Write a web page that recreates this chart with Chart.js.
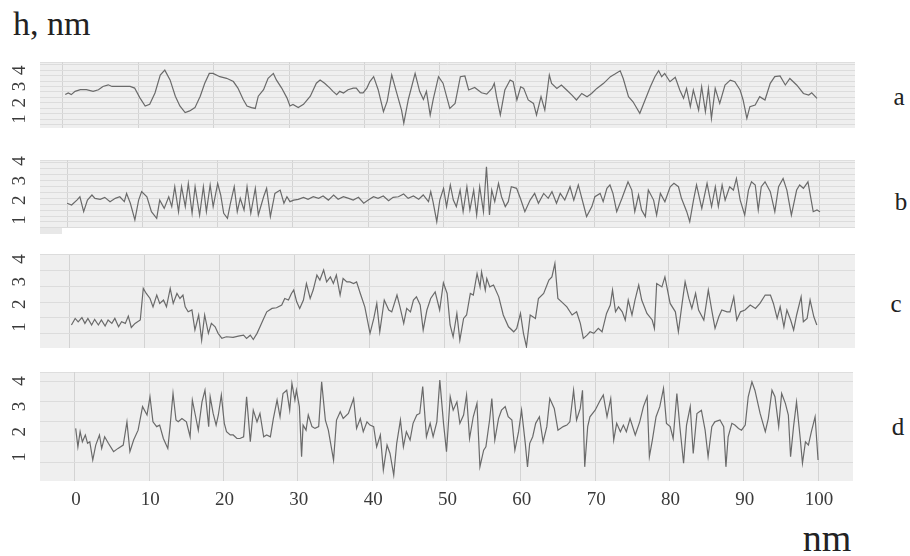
<!DOCTYPE html>
<html>
<head>
<meta charset="utf-8">
<script src="https://cdn.jsdelivr.net/npm/chart.js@4.4.1/dist/chart.umd.min.js"></script>
<style>
  body { margin: 0; background: #fff; width: 910px; height: 556px; position: relative; overflow: hidden; font-family: "Liberation Serif", serif; }
  canvas { position: absolute; left: 0; }
  .txt { position: absolute; line-height: 1; color: #222; white-space: nowrap; }
  .mid { transform: translateX(-50%); }
</style>
</head>
<body>
<div class="txt" style="left:13px;top:7px;font-size:34px;">h, nm</div>
<div class="txt mid" style="left:827px;top:519px;font-size:38px;">nm</div>
<div class="txt mid" id="lab0" style="left:899px;top:84px;font-size:25px;"></div>
<div class="txt mid" id="lab1" style="left:901px;top:189px;font-size:25px;"></div>
<div class="txt mid" id="lab2" style="left:896px;top:291px;font-size:25px;"></div>
<div class="txt mid" id="lab3" style="left:898px;top:414px;font-size:25px;"></div>
<div style="position:absolute;left:40px;top:228px;width:22px;height:6px;background:#e8e8e8;"></div>

<canvas id="panelA" width="910" height="86" style="top:52px"></canvas>
<canvas id="panelB" width="910" height="88" style="top:150px"></canvas>
<canvas id="panelC" width="910" height="114" style="top:244px"></canvas>
<canvas id="panelD" width="910" height="164" style="top:362px"></canvas>

<script>
// x tick labels (nm) and y tick labels (h, nm)
const X_TICKS = [0, 10, 20, 30, 40, 50, 60, 70, 80, 90, 100];
const Y_TICKS = [1, 2, 3, 4];
const PANEL_NAMES = ["a", "b", "c", "d"];

// profile a
const A_X = [0.3,0.7,1.1,1.6,2.3,3.1,4.0,4.7,5.3,6.0,6.5,7.1,8.0,8.9,9.5,10.2,10.9,11.5,12.2,12.9,
  13.5,14.2,14.9,15.5,16.2,16.8,17.5,18.2,18.8,19.4,19.9,20.8,21.7,22.6,23.2,23.9,24.4,25.0,25.5,25.9,
  26.6,27.2,27.9,28.3,29.0,29.7,30.1,30.5,31.2,31.9,32.8,33.6,34.1,34.7,35.4,35.8,36.3,36.7,37.2,37.8,
  38.5,38.9,39.4,39.8,40.3,40.7,41.2,41.8,42.5,43.0,43.6,44.2,44.9,45.2,45.8,46.7,47.3,47.8,48.2,48.7,
  49.1,49.8,50.4,
  51.3,52.0,52.7,53.3,53.8,54.6,55.5,56.2,56.9,57.2,57.5,58.0,58.6,59.3,59.7,60.2,60.7,61.1,61.7,62.4,
  62.8,63.4,63.9,64.5,64.8,65.5,66.1,66.8,67.5,68.1,68.8,69.5,70.1,70.8,71.7,72.6,73.2,73.9,74.3,75.0,
  75.6,76.5,77.2,77.9,78.5,79.0,79.4,79.8,80.5,81.2,81.8,82.3,82.7,83.2,83.6,84.3,84.7,85.2,85.6,86.0,
  86.5,87.1,87.8,88.5,89.1,89.8,90.2,90.7,91.1,91.8,92.4,93.1,93.8,94.4,95.1,95.8,96.4,97.3,98.2,98.9,
  99.3,100];
const A_H = [2.5,2.6,2.5,2.7,2.8,2.8,2.7,2.8,3.0,3.1,3.0,3.0,3.0,3.0,2.9,2.3,1.8,1.9,2.6,3.7,
  4.0,3.4,2.4,1.8,1.4,1.5,1.7,2.4,3.2,3.8,3.8,3.6,3.5,3.3,2.9,2.2,1.8,1.7,1.65,2.4,
  2.8,3.5,3.8,3.4,2.9,2.3,1.8,1.9,1.7,1.9,2.4,3.2,3.4,3.2,2.9,2.7,2.5,2.7,2.6,2.8,
  2.9,2.9,2.6,2.6,2.9,3.3,3.6,2.8,1.45,2.1,3.7,2.7,1.55,0.75,2.2,3.8,2.7,2.2,2.7,1.25,
  2.2,3.6,3.2,
  1.65,1.96,3.6,3.64,2.78,2.94,2.61,2.53,2.88,3.19,2.37,1.25,2.78,3.39,3.29,2.17,2.98,2.88,2.17,1.96,
  1.25,2.37,1.55,3.7,3.19,2.88,3.09,2.78,2.47,2.17,2.57,2.37,2.57,2.88,3.19,3.6,3.76,3.96,3.49,2.37,
  2.06,1.35,2.17,2.98,3.6,3.96,3.6,3.8,3.29,3.56,2.78,2.27,2.88,1.76,2.78,1.55,2.98,1.45,2.88,1.04,
  2.88,1.96,3.09,3.39,3.29,2.78,2.17,1.04,1.76,1.86,2.37,2.17,3.19,3.6,3.64,3.09,3.49,3.09,2.57,2.47,
  2.61,2.27];

// profile b
const B_X = [0.0,0.6,1.3,1.7,2.2,2.7,3.3,3.7,4.4,5.0,5.7,6.4,7.0,7.6,7.9,8.4,9.0,9.5,9.9,10.6,
  11.2,11.9,12.3,12.9,13.5,13.9,14.3,14.8,15.2,15.7,16.1,16.6,17.0,17.6,18.1,18.5,19.0,19.4,20.0,20.4,
  20.8,21.3,21.7,22.2,22.6,23.0,23.5,23.9,24.4,25.0,25.4,26.1,26.5,27.0,27.6,28.3,28.8,29.2,29.6,30.1,
  30.7,31.4,32.0,32.7,33.4,34.0,34.7,35.4,36.0,36.7,37.4,38.0,38.7,39.4,40.0,40.7,41.3,42.0,42.7,43.3,
  44.0,44.7,45.3,46.0,46.7,47.3,48.0,48.3,48.6,49.1,49.5,50.0,50.4,
  50.9,51.3,51.7,52.2,52.6,53.1,53.5,54.0,54.4,54.8,55.3,55.7,56.1,56.4,56.8,57.3,57.7,58.2,58.6,59.0,
  59.7,60.2,60.8,61.5,62.1,62.6,63.3,63.9,64.4,65.0,65.5,66.1,66.8,67.3,67.9,68.6,69.0,69.7,70.1,70.8,
  71.2,71.7,72.1,72.5,73.0,73.7,74.1,74.5,75.0,75.4,75.9,76.3,76.8,77.2,77.9,78.3,78.8,79.4,80.1,80.6,
  81.2,81.6,82.3,82.7,83.2,83.6,84.3,85.0,85.6,86.1,86.5,87.0,87.4,88.0,88.5,88.9,89.4,90.0,90.5,90.9,
  91.4,91.8,92.2,92.7,93.4,94.0,94.5,95.1,95.6,96.2,96.9,97.3,97.8,98.4,99.1,99.6,100.0];
const B_H = [1.85,1.76,2.01,2.18,1.42,2.01,2.27,2.10,2.05,2.15,1.93,2.10,2.18,1.93,2.35,1.85,1.00,2.01,2.44,2.18,
  1.42,1.08,2.01,1.59,2.18,1.68,2.69,1.42,2.69,1.68,2.86,1.34,2.69,1.25,2.69,1.42,2.78,1.68,2.86,2.27,
  1.34,1.08,1.85,2.69,1.42,2.10,1.51,2.69,1.34,2.61,1.25,2.18,2.61,1.17,2.35,2.52,1.85,2.18,1.93,2.01,
  2.05,2.15,2.05,2.18,2.10,2.22,2.01,2.27,2.05,2.18,2.10,2.01,2.15,1.85,2.01,2.18,2.10,2.22,1.98,2.15,
  2.18,2.32,2.10,2.22,2.05,2.27,1.93,2.44,1.93,0.91,2.01,2.61,1.68,
  2.78,2.01,1.68,2.52,1.42,2.69,1.51,2.52,1.25,2.69,1.42,3.71,1.25,2.52,1.93,2.86,2.18,1.68,1.93,2.69,
  2.61,2.10,1.42,2.01,2.35,1.85,2.35,2.10,2.44,1.85,2.35,2.01,2.69,2.01,2.78,1.76,1.17,1.68,2.18,2.35,
  1.93,2.61,2.78,2.35,1.42,2.10,2.52,2.94,2.52,1.42,2.27,1.51,1.17,2.52,2.01,1.25,2.35,1.93,2.69,2.86,
  2.69,2.10,1.42,0.91,2.01,2.78,1.59,2.86,1.68,2.69,1.68,2.78,2.01,2.69,2.52,3.11,2.01,1.25,2.52,2.94,
  2.78,1.51,2.69,2.94,2.44,1.42,2.69,3.11,2.52,1.25,2.52,2.78,2.61,2.94,1.42,1.51,1.42];

// profile c
const C_X = [0.2,0.7,1.1,1.6,2.0,2.4,2.9,3.3,3.8,4.2,4.7,5.1,5.6,6.0,6.5,6.9,7.4,7.8,8.2,8.7,
  9.4,9.8,10.2,10.7,11.1,11.6,12.0,12.5,12.9,13.4,13.8,14.3,14.7,15.1,15.4,15.8,16.3,16.7,17.2,17.6,
  18.0,18.5,18.9,19.4,19.8,20.3,20.9,21.8,22.5,23.2,23.6,24.1,24.5,25.0,25.4,25.8,26.3,27.0,27.6,28.3,
  28.7,29.2,29.6,29.9,30.3,30.7,31.2,31.6,32.1,32.5,33.0,33.4,33.9,34.3,34.8,35.2,35.6,36.1,36.5,37.0,
  37.4,37.9,38.3,38.8,39.4,40.1,40.6,41.0,41.4,42.0,42.6,43.0,43.7,44.1,44.6,45.0,45.5,45.9,46.3,46.8,
  47.2,47.7,48.2,48.8,49.4,49.9,50.4,
  50.8,51.2,51.7,52.1,52.6,53.0,53.5,53.9,54.4,54.8,55.0,55.5,55.7,56.1,56.6,57.3,57.9,58.6,59.3,59.7,
  60.2,60.6,61.0,61.5,62.2,62.6,63.3,64.0,64.4,64.8,65.2,65.7,66.4,67.1,67.7,68.2,68.6,69.1,69.5,70.0,
  70.6,71.1,71.7,72.2,72.5,72.9,73.3,73.8,74.2,74.6,75.1,75.5,76.0,76.4,77.1,77.8,78.1,78.4,79.1,79.5,
  80.2,80.9,81.3,81.8,82.2,82.7,83.1,83.6,84.0,84.7,85.3,85.8,86.2,86.7,87.1,87.8,88.2,88.7,89.1,89.6,
  90.2,90.9,91.6,92.2,92.9,93.6,94.0,94.5,94.9,95.4,95.8,96.3,96.7,97.1,97.7,98.0,98.5,98.9,99.4,99.8];
const C_H = [1.09,1.38,1.23,1.42,1.16,1.38,1.09,1.34,1.09,1.31,1.04,1.31,1.16,1.38,1.01,1.23,1.16,1.48,0.98,1.16,
  1.31,2.70,2.48,2.26,1.89,2.41,2.04,2.19,1.89,2.70,2.04,2.48,2.26,2.41,1.89,1.67,1.75,0.87,1.53,0.42,
  1.53,0.72,1.16,1.01,0.72,0.50,0.57,0.54,0.60,0.64,0.50,0.64,0.45,0.72,1.01,1.31,1.67,1.82,1.85,1.97,
  2.26,2.19,2.48,2.63,2.11,1.82,2.19,2.92,2.26,2.63,3.29,3.07,3.51,2.99,3.21,2.92,3.29,2.41,3.14,2.99,
  2.99,2.92,2.99,2.48,1.89,0.72,1.38,2.04,0.79,2.19,1.75,1.67,2.41,1.89,1.16,1.82,1.67,2.19,2.33,1.97,
  0.87,1.75,2.26,2.55,1.75,2.95,2.48,
  1.09,0.57,1.60,0.42,1.38,1.53,2.48,2.41,3.36,2.77,3.43,2.63,3.14,2.77,2.85,2.33,1.53,1.01,0.79,0.94,
  1.60,0.72,0.13,1.53,1.38,2.26,2.48,3.07,3.21,3.80,2.26,2.11,1.89,1.53,1.67,1.16,0.50,0.64,0.79,0.72,
  0.94,0.79,1.60,1.97,2.63,1.67,1.89,1.67,1.31,2.19,1.53,2.19,2.85,2.19,1.60,1.31,0.94,2.92,2.77,3.21,
  2.04,1.67,0.79,2.04,2.99,2.26,1.82,2.48,1.75,1.31,2.63,1.67,0.94,1.45,1.75,1.67,1.67,2.33,1.31,1.67,
  1.75,1.97,1.82,2.04,2.41,2.41,2.04,1.38,1.89,1.01,1.75,1.31,0.87,1.53,2.33,1.23,1.38,2.19,1.45,1.09];

// profile d
const D_X = [0.1,0.4,0.7,1.0,1.4,1.7,2.0,2.4,2.8,3.3,3.6,4.0,4.5,5.2,5.8,6.5,7.0,7.4,7.9,8.5,
  9.1,9.7,10.1,10.5,11.0,11.4,11.9,12.5,12.8,13.2,13.6,13.9,14.4,15.0,15.5,15.8,16.2,16.6,17.1,17.5,
  18.0,18.2,18.6,19.0,19.3,19.7,20.1,20.4,20.9,21.3,21.8,22.2,22.7,23.1,23.6,24.0,24.5,24.9,25.4,25.8,
  26.3,26.7,27.2,27.6,28.0,28.5,28.9,29.2,29.6,29.8,30.2,30.5,30.7,31.1,31.4,31.9,32.3,32.8,33.2,33.7,
  34.1,34.8,35.2,35.7,36.1,36.8,37.5,37.9,38.4,38.8,39.3,39.7,40.2,40.6,41.1,41.5,42.0,42.4,42.9,43.3,
  43.8,44.2,44.6,45.1,45.5,46.0,46.4,46.8,47.3,47.8,48.2,48.7,49.1,49.6,50.0,50.5,
  50.9,51.4,51.8,52.3,52.7,53.1,53.6,54.1,54.5,55.0,55.3,55.8,56.1,56.5,57.0,57.4,57.9,58.3,58.8,59.2,
  59.7,60.1,60.6,60.9,61.2,61.6,62.0,62.5,63.0,63.5,63.9,64.5,65.0,65.7,66.2,66.6,67.1,67.5,68.0,68.3,
  68.6,69.0,69.3,70.0,70.7,71.1,71.6,72.1,72.5,72.9,73.4,73.8,74.2,74.7,75.4,76.0,76.5,77.0,77.3,77.7,
  78.2,78.7,79.2,79.6,80.1,80.5,81.0,81.4,81.9,82.3,82.8,83.2,83.7,84.3,84.8,85.2,85.7,86.1,86.8,87.3,
  87.6,87.9,88.4,88.8,89.3,89.7,90.2,90.6,91.1,91.5,92.2,92.9,93.3,93.8,94.2,94.7,95.1,95.6,96.0,96.3,
  96.7,97.1,97.6,97.9,98.3,98.7,99.1,99.6,100.0];
const D_H = [2.13,1.40,2.00,1.60,1.87,1.54,1.60,0.88,1.47,1.87,1.34,1.80,1.54,1.21,1.34,1.47,2.39,1.21,1.67,2.06,
  2.99,2.66,3.38,2.39,2.20,2.26,1.73,1.34,2.20,3.51,2.46,2.39,2.52,2.39,1.80,3.25,2.66,2.06,3.18,3.64,
  2.20,3.38,2.72,2.26,2.66,3.45,2.33,2.00,1.87,1.87,1.73,1.73,1.80,3.38,1.60,2.85,2.39,2.72,1.80,1.87,
  1.80,2.52,3.25,2.59,3.51,3.64,2.85,3.91,3.25,3.64,2.99,1.01,2.26,2.06,2.66,2.20,2.13,2.20,3.97,2.46,
  2.06,0.88,2.46,2.79,2.52,2.72,3.31,2.13,2.52,2.00,2.39,2.26,2.20,1.40,1.87,0.48,1.47,1.14,0.28,1.54,
  2.46,1.40,2.00,1.67,2.33,2.66,2.72,3.78,1.80,2.33,1.80,2.39,4.04,2.33,1.21,3.38,
  2.85,3.18,2.33,2.66,3.45,1.73,2.59,3.12,0.61,1.27,1.40,2.46,3.31,1.67,2.52,2.85,2.99,2.59,2.46,1.27,
  2.00,2.85,1.54,0.61,1.54,1.80,2.33,2.59,1.60,2.20,3.31,2.92,2.06,2.20,2.26,2.39,3.64,2.46,2.92,3.64,
  0.61,2.20,2.59,2.85,3.25,3.45,2.59,3.31,1.67,2.33,2.00,2.26,2.00,2.52,1.87,2.39,2.99,3.38,1.01,1.67,
  2.59,2.99,3.71,2.33,2.20,1.73,3.51,2.20,0.75,2.26,2.99,1.14,2.72,2.85,2.06,1.01,2.20,2.39,2.46,2.20,
  0.61,1.80,2.33,2.26,2.13,2.06,2.26,3.38,3.97,3.64,2.72,2.00,2.52,3.64,3.38,2.20,3.51,3.12,2.66,1.01,
  2.20,3.18,1.73,0.75,1.60,1.47,2.00,2.59,0.88];

// each strip: axis range and where its plot box sits in the canvas
const PANELS = [
  { id: "panelA", xs: A_X, hs: A_H, xMin: -3.05, xMax: 105.04, yMin: 0.45, yMax: 4.5, step: 1 / 3,
    pad: { left: 40, right: 55, top: 10, bottom: 10 } },
  { id: "panelB", xs: B_X, hs: B_H, xMin: -3.6, xMax: 104.65, yMin: 0.59, yMax: 4.05, step: 0.3,
    pad: { left: 40, right: 55, top: 10, bottom: 10 } },
  { id: "panelC", xs: C_X, hs: C_H, xMin: -4.0, xMax: 104.9, yMin: 0.075, yMax: 4.22, step: 0.7,
    pad: { left: 40, right: 55, top: 10, bottom: 10 } },
  { id: "panelD", xs: D_X, hs: D_H, xMin: -4.7, xMax: 104.7, yMin: 0.05, yMax: 4.36, step: 0.8,
    pad: { left: 40, right: 57, top: 10, bottom: 45 }, xLabels: true },
];

// grey plot box
const panelBg = {
  id: "panelBg",
  beforeDraw(chart) {
    const { ctx, chartArea: a } = chart;
    ctx.save();
    ctx.fillStyle = "#efefef";
    ctx.fillRect(a.left, a.top, a.width, a.height);
    ctx.strokeStyle = "#dedede";
    ctx.beginPath();
    ctx.moveTo(a.left, a.top + 0.5);
    ctx.lineTo(a.right, a.top + 0.5);
    ctx.stroke();
    ctx.restore();
  }
};

// rotated 1..4 on the left, 0..100 under the last strip
const axisText = {
  id: "axisText",
  afterDraw(chart, args, opts) {
    const { ctx } = chart;
    const y = chart.scales.y;
    ctx.save();
    ctx.fillStyle = "#3a3a3a";
    ctx.font = '19px "Liberation Serif"';
    ctx.textAlign = "center";
    ctx.textBaseline = "middle";
    Y_TICKS.forEach(v => {
      ctx.save();
      ctx.translate(20, y.getPixelForValue(v));
      ctx.rotate(-Math.PI / 2);
      ctx.fillText(String(v), 0, 0);
      ctx.restore();
    });
    if (opts.xLabels) {
      const x = chart.scales.x;
      X_TICKS.forEach(v => {
        ctx.fillText(String(v), x.getPixelForValue(v) + 1, chart.chartArea.bottom + 19);
      });
    }
    ctx.restore();
  }
};

PANEL_NAMES.forEach((n, i) => { document.getElementById("lab" + i).textContent = n; });

PANELS.forEach(p => {
  const ctx = document.getElementById(p.id).getContext("2d");
  new Chart(ctx, {
    type: "line",
    data: {
      datasets: [{
        data: p.xs.map((x, i) => ({ x: x, y: p.hs[i] })),
        borderColor: "#6a6a6a",
        borderWidth: 1.2,
        pointRadius: 0,
        tension: 0,
        fill: false,
      }]
    },
    options: {
      responsive: false,
      animation: false,
      events: [],
      layout: { padding: p.pad },
      plugins: {
        legend: { display: false },
        tooltip: { enabled: false },
        axisText: { xLabels: !!p.xLabels },
      },
      scales: {
        x: {
          type: "linear",
          min: p.xMin,
          max: p.xMax,
          afterBuildTicks: s => { s.ticks = X_TICKS.map(v => ({ value: v })); },
          ticks: { display: false },
          grid: { color: "#d3d3d3", lineWidth: 1, drawTicks: false },
          border: { display: false },
        },
        y: {
          min: p.yMin,
          max: p.yMax,
          afterBuildTicks: s => {
            const t = [];
            for (let k = Math.ceil(p.yMin / p.step); k * p.step < p.yMax; k++) t.push({ value: k * p.step });
            s.ticks = t;
          },
          ticks: { display: false },
          grid: { color: "#dcdcdc", lineWidth: 1, drawTicks: false },
          border: { display: false },
        },
      },
    },
    plugins: [panelBg, axisText],
  });
});
</script>
</body>
</html>
